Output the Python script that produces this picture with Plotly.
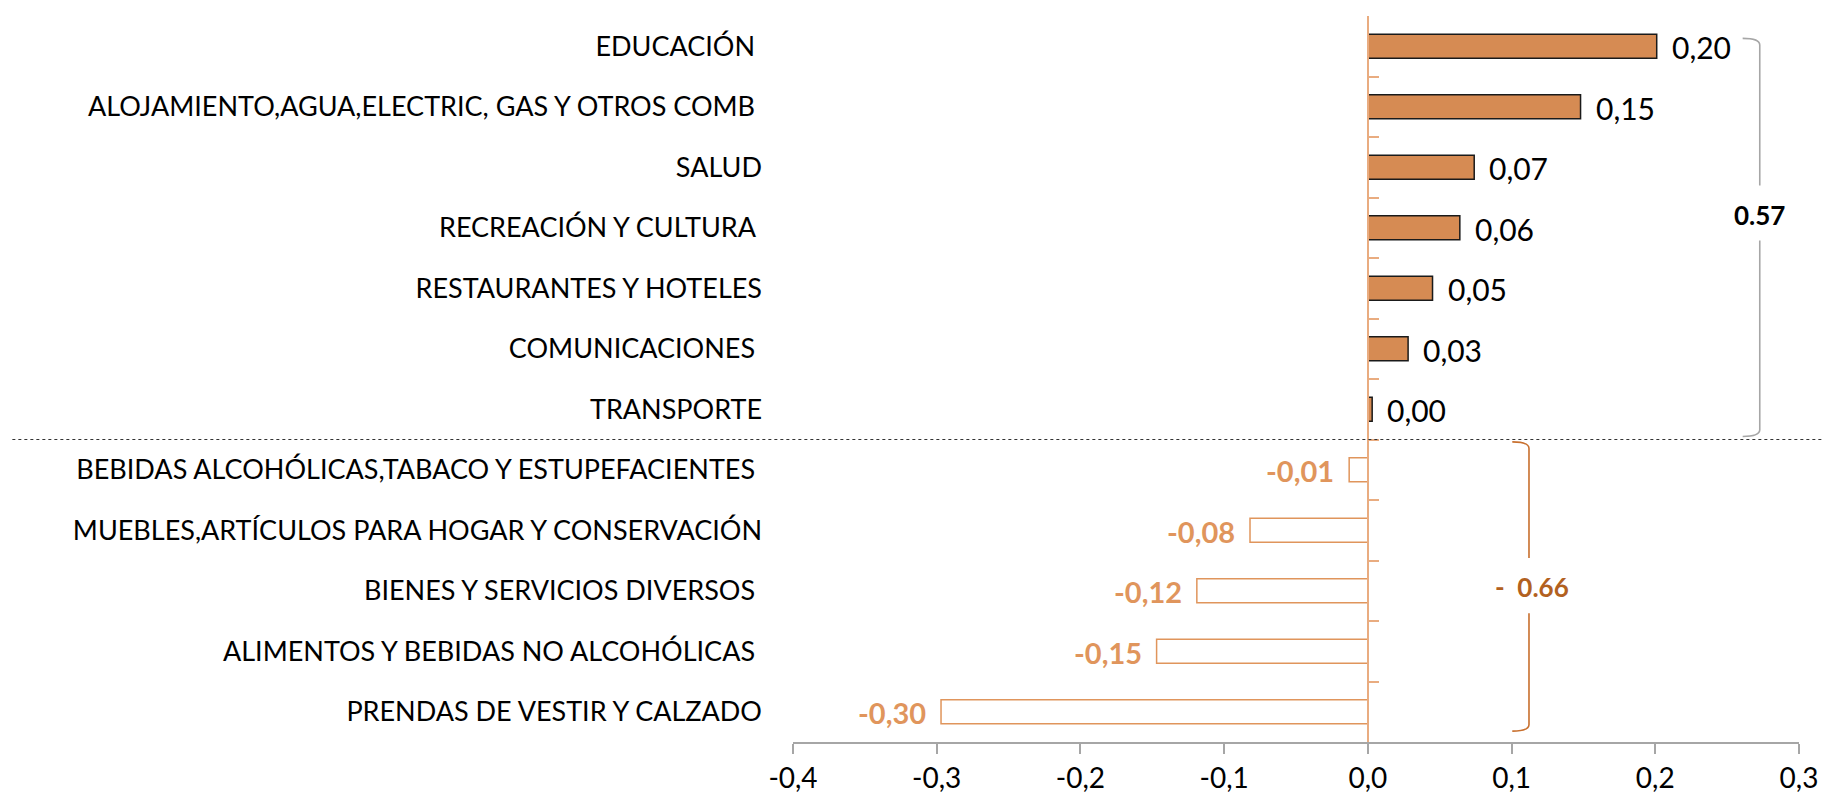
import plotly.graph_objects as go

categories = [
    "EDUCACIÓN\u00a0",
    "ALOJAMIENTO,AGUA,ELECTRIC, GAS Y OTROS COMB\u00a0",
    "SALUD",
    "RECREACIÓN Y CULTURA\u00a0",
    "RESTAURANTES Y HOTELES",
    "COMUNICACIONES\u00a0",
    "TRANSPORTE",
    "BEBIDAS ALCOHÓLICAS,TABACO Y ESTUPEFACIENTES\u00a0",
    "MUEBLES,ARTÍCULOS PARA HOGAR Y CONSERVACIÓN",
    "BIENES Y SERVICIOS DIVERSOS\u00a0",
    "ALIMENTOS Y BEBIDAS NO ALCOHÓLICAS\u00a0",
    "PRENDAS DE VESTIR Y CALZADO",
]
values = [0.201, 0.148, 0.074, 0.064, 0.045, 0.028, 0.003,
          -0.013, -0.082, -0.119, -0.147, -0.297]
value_labels = ["0,20", "0,15", "0,07", "0,06", "0,05", "0,03", "0,00",
                "-0,01", "-0,08", "-0,12", "-0,15", "-0,30"]
x_tickvals = [-0.4, -0.3, -0.2, -0.1, 0.0, 0.1, 0.2, 0.3]
x_ticktext = ["-0,4", "-0,3", "-0,2", "-0,1", "0,0", "0,1", "0,2", "0,3"]
total_pos_label = "0.57"
total_neg_label = "-  0.66"

FONT = "Lato"
POS_FILL = "#D68B53"
NEG_LINE = "#E0955C"
AXIS_ORANGE = "#E9AC80"
NEG_BRACKET = "#C8702E"
NEG_TOTAL = "#B2611F"

idx = list(range(len(categories)))
pos_idx = [i for i in idx if values[i] >= 0]
neg_idx = [i for i in idx if values[i] < 0]

fig = go.Figure()
fig.add_trace(go.Bar(
    y=pos_idx, x=[values[i] for i in pos_idx], orientation="h", width=0.4,
    marker=dict(color=POS_FILL, line=dict(color="#1a1a1a", width=1.5)),
    showlegend=False, hoverinfo="skip"))
fig.add_trace(go.Bar(
    y=neg_idx, x=[values[i] for i in neg_idx], orientation="h", width=0.4,
    marker=dict(color="white", line=dict(color=NEG_LINE, width=1.5)),
    showlegend=False, hoverinfo="skip"))
# invisible trace to carry the secondary (zero-positioned) y axis
fig.add_trace(go.Scatter(x=[0], y=[0], yaxis="y2", mode="markers",
                         marker=dict(opacity=0), showlegend=False, hoverinfo="skip"))

annotations = []
for i in idx:
    v = values[i]
    if v >= 0:
        annotations.append(dict(x=v, y=i, xref="x", yref="y", text=value_labels[i],
                                showarrow=False, xanchor="left", yanchor="middle",
                                xshift=13, yshift=-1,
                                font=dict(family=FONT, size=30, color="black")))
    else:
        annotations.append(dict(x=v, y=i, xref="x", yref="y", text="<b>%s</b>" % value_labels[i],
                                showarrow=False, xanchor="right", yanchor="middle",
                                xshift=-13, yshift=-1,
                                font=dict(family=FONT, size=29, color=NEG_LINE)))

# group totals
p_top, p_bot = pos_idx[0] - 0.13, pos_idx[-1] + 0.45
n_top, n_bot = neg_idx[0] - 0.46, neg_idx[-1] + 0.32
annotations.append(dict(x=0.961, y=2.79, xref="paper", yref="y",
                        text="<b>%s</b>" % total_pos_label, showarrow=False,
                        xanchor="center", yanchor="middle",
                        font=dict(family=FONT, size=26, color="black")))
annotations.append(dict(x=0.735, y=8.94, xref="paper", yref="y",
                        text="<b>%s</b>" % total_neg_label, showarrow=False,
                        xanchor="center", yanchor="middle",
                        font=dict(family=FONT, size=26, color=NEG_TOTAL)))


def bracket(x_in, x_out, top, bot, gap_top, gap_bot, color):
    c = 0.11
    path = (f"M {x_in},{top} Q {x_out},{top} {x_out},{top + c} L {x_out},{gap_top} "
            f"M {x_out},{gap_bot} L {x_out},{bot - c} Q {x_out},{bot} {x_in},{bot}")
    return dict(type="path", xref="paper", yref="y", path=path,
                line=dict(color=color, width=1.6))


shapes = [
    bracket(0.944, 0.961, p_top, p_bot, 2.30, 3.21, "#A6A6A6"),
    bracket(0.715, 0.7316, n_top, n_bot, 8.46, 9.37, NEG_BRACKET),
    dict(type="line", xref="paper", yref="y", x0=-0.776, x1=1.03,
         y0=(pos_idx[-1] + neg_idx[0]) / 2, y1=(pos_idx[-1] + neg_idx[0]) / 2,
         line=dict(color="#333333", width=1.2, dash="dot")),
]

n = len(categories)
fig.update_layout(
    width=1823, height=797,
    margin=dict(l=793, r=24, t=16, b=55, autoexpand=False),
    paper_bgcolor="white", plot_bgcolor="white",
    barmode="overlay",
    font=dict(family=FONT, color="black"),
    xaxis=dict(range=[-0.4, 0.3], tickvals=x_tickvals, ticktext=x_ticktext,
               automargin=False,
               showgrid=False, zeroline=False, showline=True, linecolor="#A6A6A6",
               linewidth=2, ticks="outside", ticklen=10, tickwidth=1.5, tickcolor="#A6A6A6",
               tickfont=dict(family=FONT, size=28, color="black")),
    yaxis=dict(range=[n - 0.5, -0.5], tickvals=idx, ticktext=categories,
               automargin=False,
               showgrid=False, zeroline=False, showline=False, ticks="",
               ticklabelstandoff=30,
               tickfont=dict(family=FONT, size=27, color="black")),
    yaxis2=dict(range=[n - 0.5, -0.5], overlaying="y", anchor="free", side="left",
                position=(0 - (-0.4)) / 0.7, automargin=False,
                tickvals=[i - 0.5 for i in range(n + 1)], ticktext=[""] * (n + 1),
                showgrid=False, zeroline=False, showline=True, linecolor=AXIS_ORANGE,
                linewidth=2, ticks="inside", ticklen=10, tickwidth=1.5, tickcolor=AXIS_ORANGE),
    annotations=annotations,
    shapes=shapes,
)

fig.write_html("out.html", config={"displayModeBar": False},
               post_script="document.body.style.margin='0px';document.body.style.overflow='hidden';")
